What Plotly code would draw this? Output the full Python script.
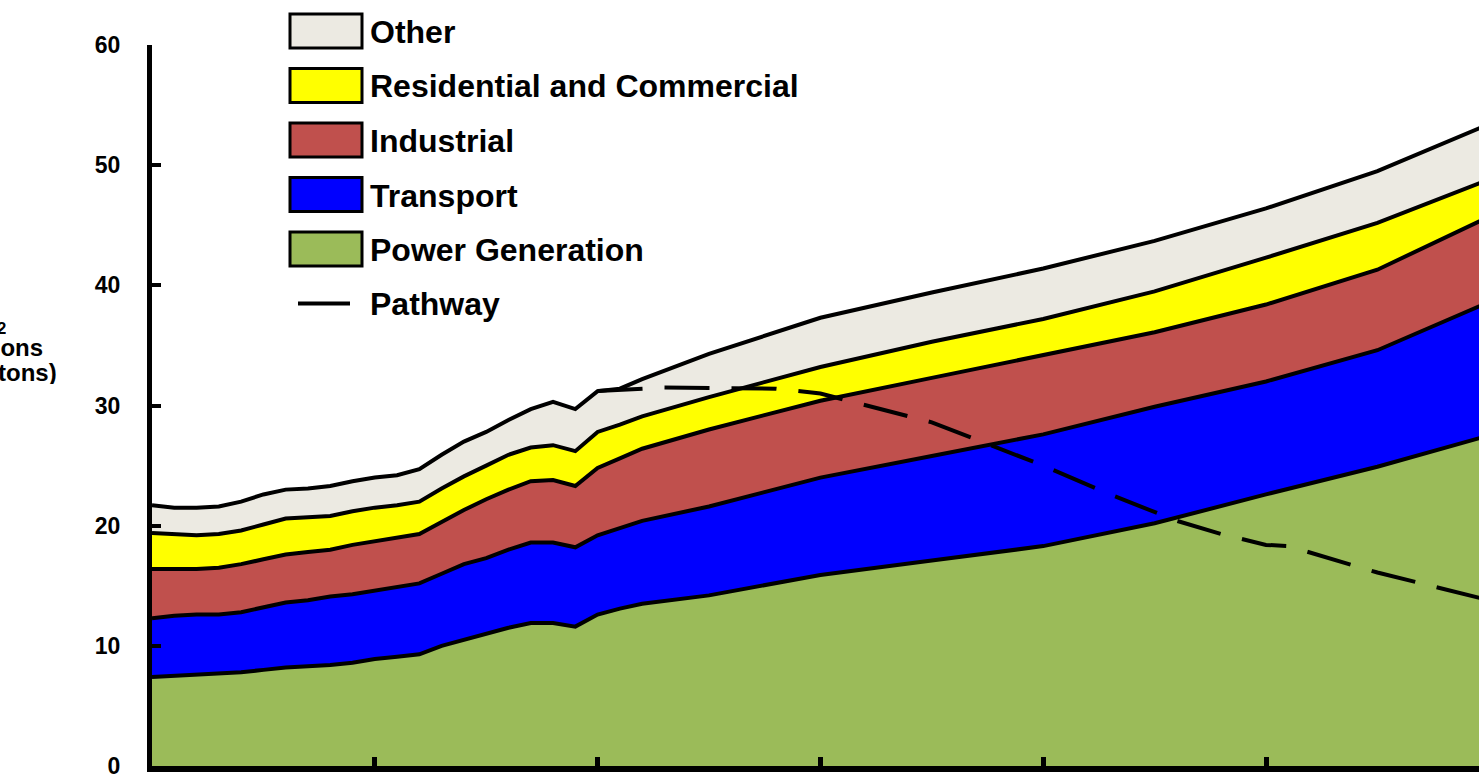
import plotly.graph_objects as go

# emissions by sector (billion tons)
YEARS = [1990, 1991, 1992, 1993, 1994, 1995, 1996, 1997, 1998, 1999,
         2000, 2001, 2002, 2003, 2004, 2005, 2006, 2007, 2008, 2009,
         2010, 2011, 2012, 2015, 2020, 2025, 2030, 2035, 2040, 2045, 2050]

POWER = [7.4, 7.5, 7.6, 7.7, 7.8, 8.0, 8.2, 8.3, 8.4, 8.6,
         8.9, 9.1, 9.3, 10.0, 10.5, 11.0, 11.5, 11.9, 11.9, 11.6,
         12.6, 13.1, 13.5, 14.2, 15.9, 17.1, 18.3, 20.2, 22.6, 24.9, 27.5]
TRANSPORT = [4.9, 5.0, 5.0, 4.9, 5.0, 5.2, 5.4, 5.5, 5.7, 5.7,
             5.7, 5.8, 5.9, 6.0, 6.3, 6.3, 6.5, 6.7, 6.7, 6.6,
             6.6, 6.7, 6.9, 7.4, 8.1, 8.7, 9.3, 9.7, 9.4, 9.7, 11.1]
INDUSTRIAL = [4.1, 3.9, 3.8, 3.9, 4.0, 4.0, 4.0, 4.0, 3.9, 4.1,
              4.1, 4.1, 4.1, 4.3, 4.5, 4.9, 5.0, 5.1, 5.2, 5.1,
              5.6, 5.8, 6.0, 6.4, 6.4, 6.5, 6.6, 6.2, 6.4, 6.7, 7.1]
RES_COM = [3.0, 2.9, 2.8, 2.8, 2.8, 2.9, 3.0, 2.9, 2.8, 2.8,
           2.8, 2.7, 2.7, 2.8, 2.8, 2.8, 2.9, 2.8, 2.9, 2.9,
           3.0, 2.8, 2.7, 2.7, 2.8, 3.0, 3.0, 3.4, 3.9, 3.9, 3.1]
OTHER = [2.3, 2.2, 2.3, 2.3, 2.4, 2.5, 2.4, 2.4, 2.5, 2.5,
         2.5, 2.5, 2.7, 2.8, 2.9, 2.8, 2.9, 3.2, 3.6, 3.5,
         3.4, 3.0, 3.1, 3.6, 4.1, 4.1, 4.2, 4.2, 4.1, 4.3, 4.6]

PATH_YEARS = [2010, 2013, 2018, 2020, 2025, 2030, 2033, 2036, 2038, 2040, 2041, 2045, 2050]
PATHWAY = [31.2, 31.5, 31.4, 31.0, 28.6, 25.0, 22.6, 20.4, 19.3, 18.4, 18.3, 16.1, 13.8]

SECTORS = [
    ("Power Generation", POWER, "#9BBB59"),
    ("Transport", TRANSPORT, "#0000FF"),
    ("Industrial", INDUSTRIAL, "#C0504D"),
    ("Residential and Commercial", RES_COM, "#FFFF00"),
    ("Other", OTHER, "#ECEAE2"),
]

W, H = 1479, 779
L, T, B = 152, 45, 13
PW, PH = W - L, H - T - B
FONT = "Arial, Liberation Sans, sans-serif"


def px(x):
    return (x - L) / PW


def py(y):
    return (H - B - y) / PH


fig = go.Figure()
for name, values, color in SECTORS:
    fig.add_trace(go.Scatter(
        x=YEARS, y=values, name=name, stackgroup="one", mode="lines",
        line=dict(color="black", width=4), fillcolor=color,
    ))

fig.add_trace(go.Scatter(
    x=PATH_YEARS, y=PATHWAY, name="Pathway", mode="lines",
    line=dict(color="black", width=4, dash="45px,22px"),
))

# hand-built legend, large swatches like the original
rows = [("Other", "#ECEAE2"), ("Residential and Commercial", "#FFFF00"),
        ("Industrial", "#C0504D"), ("Transport", "#0000FF"),
        ("Power Generation", "#9BBB59")]
for i, (label, color) in enumerate(rows):
    yc = 31 + i * 54.5
    fig.add_shape(type="rect", xref="paper", yref="paper",
                  x0=px(290), x1=px(362), y0=py(yc - 17), y1=py(yc + 17),
                  fillcolor=color, line=dict(color="black", width=3))
    fig.add_annotation(x=px(368), y=py(yc + 1), xref="paper", yref="paper",
                       text="<b>%s</b>" % label, showarrow=False,
                       xanchor="left", yanchor="middle",
                       font=dict(family=FONT, size=32, color="black"))
yc = 31 + 5 * 54.5
fig.add_shape(type="line", xref="paper", yref="paper",
              x0=px(298), x1=px(350), y0=py(yc), y1=py(yc),
              line=dict(color="black", width=4))
fig.add_annotation(x=px(368), y=py(yc + 1), xref="paper", yref="paper",
                   text="<b>Pathway</b>", showarrow=False,
                   xanchor="left", yanchor="middle",
                   font=dict(family=FONT, size=32, color="black"))

# y title, mostly cut off at the left edge like the source image
for text, yc in [("CO<sub>2</sub>", 322), ("Emissions", 347), ("(Billion tons)", 372)]:
    fig.add_annotation(x=px(-17), y=py(yc), xref="paper", yref="paper",
                       text="<b>%s</b>" % text, showarrow=False, height=24,
                       xanchor="center", yanchor="middle", valign="middle",
                       font=dict(family=FONT, size=24, color="black"))

fig.update_layout(
    width=W, height=H,
    margin=dict(l=L, r=0, t=T, b=B, autoexpand=False),
    paper_bgcolor="white", plot_bgcolor="white",
    showlegend=False,
    xaxis=dict(range=[1990, 2049.56], tickvals=[1990, 2000, 2010, 2020, 2030, 2040, 2050],
               showticklabels=False, ticks="inside", ticklen=9, tickwidth=5,
               tickcolor="black", showline=True, linecolor="black", linewidth=6,
               showgrid=False, zeroline=False, automargin=False),
    yaxis=dict(range=[0, 60], tickvals=[0, 10, 20, 30, 40, 50, 60],
               ticks="inside", ticklen=9, tickwidth=4, tickcolor="black",
               showline=True, linecolor="black", linewidth=5, automargin=False,
               showgrid=False, zeroline=False, ticklabelstandoff=22,
               ticklabeloverflow="allow",
               tickfont=dict(family=FONT, size=23, color="black", weight="bold")),
)

fig.write_html("out.html", config={"displayModeBar": False},
               post_script="document.body.style.margin='0';")
